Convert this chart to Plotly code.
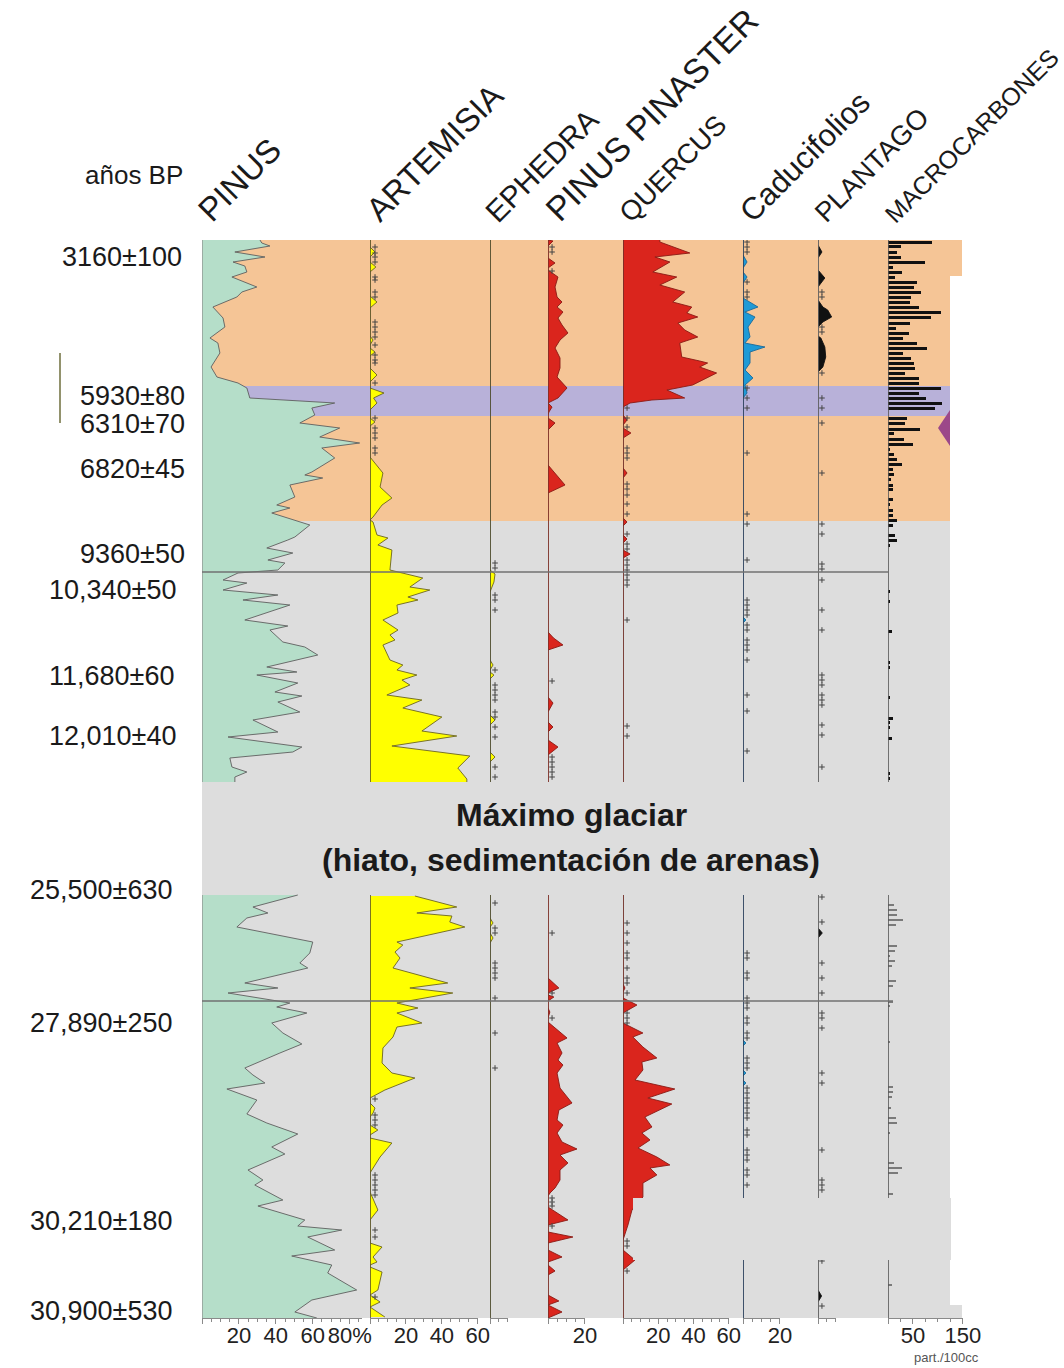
import plotly.graph_objects as go

W, H = 1064, 1368

# ---------------- data (depth axis: cm, top of core at 240) ----------------
SECTIONS = [(240, 782), (895, 1318)]

PINUS_UP_D = [240,243,246,252,257,262,266,272,277,287,292,297,307,318,327,338,343,353,367,377,383,388,398,403,408,415,423,428,437,443,448,458,472,475,478,485,497,505,508,513,525,537,540,548,553,560,563,570,573,580,583,590,595,600,605,620,626,630,642,647,655,667,672,675,683,692,696,702,712,720,732,737,747,752,758,767,772,777,782]
PINUS_UP_V = [31.4,32.4,36.8,17.8,34.1,16.8,23.2,24.3,16.2,29.7,21.6,18.9,5.9,11.4,12.4,4.3,8.6,9.7,4.9,8.1,19.5,24.3,25.9,71.9,59.5,61.1,53.0,74.6,63.8,85.4,64.9,71.9,59.5,55.7,65.4,47.6,50.3,40.5,47.6,37.8,58.4,50.3,46.5,35.1,49.2,35.7,44.9,41.1,19.5,11.4,24.3,11.4,41.1,22.2,47.6,23.2,46.5,36.8,43.8,55.7,62.7,35.1,51.4,29.7,51.9,39.5,54.1,41.1,53.0,27.6,41.1,14.1,54.1,49.2,15.1,16.2,24.3,17.8,17.8]
PINUS_LO_D = [895,907,913,918,927,942,953,963,968,983,988,993,1003,1007,1013,1023,1033,1044,1053,1068,1075,1083,1089,1100,1114,1123,1134,1147,1154,1170,1180,1185,1200,1206,1220,1226,1230,1237,1250,1256,1265,1273,1290,1300,1312,1318]
PINUS_LO_V = [51.9,27.6,35.7,24.3,18.9,60.0,58.4,53.0,57.3,23.2,41.1,14.1,47.6,40.5,56.8,37.8,43.8,54.1,42.2,23.2,27.6,34.1,13.5,29.7,24.3,35.1,51.9,37.8,44.9,24.9,33.0,28.6,43.8,30.3,55.7,51.9,75.7,57.3,71.9,48.6,70.3,68.1,83.8,59.5,50.3,62.2]

ART_UP_D = [240,247,252,257,262,267,272,296,302,308,336,340,345,348,352,356,368,375,382,388,393,398,403,410,418,422,426,457,473,487,498,505,517,520,522,535,538,545,550,570,578,587,590,597,600,605,613,620,630,635,640,645,660,665,670,675,680,685,695,700,708,717,731,736,746,756,768,779,782]
ART_UP_V = [0,0,2.8,0,0,3.3,0,0,3.9,0,0,1.7,0,0,2.8,0,0,3.9,0,0,7.8,2,3.9,0,0,2.8,0,0,7.2,5.6,12.2,6.7,1.7,0,1.7,3.9,10,4.4,12.2,11.1,29.4,22.2,33.3,21.1,26.7,15,15.6,7.2,15.6,11.1,13.9,7.2,11.1,18.3,15,26.1,17.8,22.2,9.4,28.9,18.3,40,28.9,48.3,12.2,55.6,48.9,53.9,53.9]
ART_LO_D = [896,907,913,916,922,927,942,945,952,958,968,983,988,993,1003,1008,1013,1023,1027,1037,1048,1063,1073,1078,1090,1098,1103,1108,1113,1117,1125,1130,1135,1138,1143,1157,1173,1192,1200,1210,1220,1243,1247,1257,1262,1265,1267,1272,1290,1295,1302,1307,1317]
ART_LO_V = [25,48.3,26.1,45.6,44.4,52.8,15,18.3,13.9,16.7,12.8,43.3,22.2,46.1,15,26.7,15,28.9,15,12.8,7.2,6.7,12.2,25,8.3,0,0,2.8,1.7,0,0,4.4,0,0,12.2,5.6,0,0,2,4.4,0,0,6.7,1.7,3.9,0,0,6.7,4.4,0,5.6,0,8.3]

EPH_UP_D = [240,570,574,582,592,660,665,670,672,675,679,715,720,725,752,757,762,782]
EPH_UP_V = [0,0,2.8,2.2,0,0,1.7,0,0,2.2,0,0,2.8,0,0,2.8,0,0]
EPH_LO_D = [895,918,923,927,933,938,943,1318]
EPH_LO_V = [0,0,1.7,0,0,1.7,0,0]

PPIN_UP_D = [240,241,246,258,263,268,270,277,287,297,302,307,312,318,325,333,340,348,358,368,377,388,398,402,403,407,412,415,418,423,430,465,470,485,493,632,638,645,650,697,703,712,722,727,732,740,747,755,782]
PPIN_UP_V = [0,2.7,0,0,3.8,0,0,5.4,3.8,4.9,7.6,4.9,8.1,5.4,7.6,10.8,6.5,3.8,6.5,6.5,4.9,10.3,5.4,1.1,0,2.2,0.5,0,0,3.8,0,0,2.2,9.2,0,0,3,8.1,0,0,2.7,0,0,2.7,0,0,5.4,0,0]
PPIN_LO_D = [895,978,988,993,995,997,1001,1008,1012,1018,1022,1038,1043,1053,1060,1065,1073,1088,1103,1110,1120,1125,1133,1142,1149,1155,1163,1170,1180,1188,1193,1196,1207,1220,1225,1232,1237,1243,1250,1257,1262,1265,1271,1275,1295,1301,1305,1312,1318]
PPIN_LO_V = [0,0,5.9,0,0,3.2,0,0,1,0,0,10.3,4.9,7.6,5.4,8.1,4.9,6.5,13,5.9,4.9,8.1,4.9,7.6,15.7,6.5,10.8,6.5,6.5,3.8,1.1,0,0,10.8,0,0,13.5,0,0,7.6,0,0,3.8,0,0,5.9,0,7.6,0]

QUE_UP_D = [240,242,253,257,262,272,277,285,292,302,307,313,317,323,330,337,343,357,361,363,367,373,385,390,398,400,403,407,415,420,425,428,433,438,468,473,478,518,522,526,535,539,543,550,554,558,782]
QUE_UP_V = [20.9,20.9,37.9,18.1,26.6,16.9,30.5,20.9,35.0,28.2,39.0,36.2,42.4,31.1,35.0,42.4,32.2,33.3,43.5,48.0,43.5,53.1,39.5,24.9,35.0,16.4,4.0,0,0,2.3,0,0,4.5,0,0,2.3,0,0,2.3,0,0,2.3,0,0,4,0,0]
QUE_LO_D = [895,984,988,992,998,1005,1013,1023,1033,1037,1047,1058,1062,1070,1080,1089,1098,1104,1117,1127,1133,1140,1148,1157,1165,1168,1175,1183,1197,1210,1225,1240,1250,1260,1270,1318]
QUE_LO_V = [0,0,1.1,0,0,7.9,0,0,11.3,5.6,11.3,19.2,10.7,11.3,6.8,29.4,14.1,27.7,12.4,16.4,10.7,15.3,8.5,19.2,26.6,15.3,19.2,11.3,11.3,5.1,2.8,0,0,6.8,0,0]

CAD_UP_D = [240,255,262,268,272,277,283,298,307,312,317,327,337,343,347,352,363,370,378,385,393,398,617,620,623,782]
CAD_UP_V = [0,0,2.2,0,0,2.2,0,0,8.1,1,6.5,2.7,3.8,1,11.9,3.8,3.8,1.1,5.4,1.1,2.2,0,0,1.6,0,0]
CAD_LO_D = [895,1040,1043,1046,1070,1073,1076,1080,1083,1086,1318]
CAD_LO_V = [0,0,1.6,0,0,1.6,0,0,1.6,0,0]

PLA_UP_D = [240,245,252,258,270,278,287,300,307,310,317,322,327,336,338,347,357,367,372,782]
PLA_UP_V = [0,0,2.2,0,0,3.8,0,0,2.7,5.4,7.6,2.7,0,0,1.6,3.8,4.3,2.7,0,0]
PLA_LO_D = [895,928,933,938,1290,1296,1302,1318]
PLA_LO_V = [0,0,2.4,0,0,2,0,0]

MAC_UP_D = [242,246,252,257,262,267,272,277,282,287,292,297,302,307,312,317,323,328,333,338,343,348,353,358,363,368,373,378,383,388,393,398,403,408,418,423,429,433,439,444,449,454,459,464,469,474,479,485,489,499,504,510,515,520,525,535,540,545,591,601,631,662,667,697,718,722,727,738,773,778]
MAC_UP_V = [88,26,18,26,74,10,28,14,58,52,66,46,44,62,106,86,44,16,42,30,58,78,30,46,52,54,34,62,62,106,62,76,108,94,38,34,64,12,32,50,4,12,18,28,10,12,6,10,10,10,4,10,10,18,10,14,18,4,4,4,8,4,4,4,10,4,4,8,4,4]
MAC_LO_D = [905,910,915,920,925,946,951,956,961,966,981,986,1002,1006,1042,1087,1092,1097,1108,1118,1123,1133,1163,1168,1173,1194,1285]
MAC_LO_V = [12,18,18,30,16,18,14,4,14,8,16,10,10,4,4,10,10,8,6,16,18,4,12,28,20,10,8]

# presence (<1 %) records, shown as "+"
ART_PLUS = [247,253,257,262,277,280,292,297,322,327,332,337,345,355,360,363,383,418,428,433,438,448,453,1099,1115,1120,1125,1175,1180,1185,1190,1195,1230,1237,1297]
EPH_PLUS = [563,568,595,600,610,670,685,690,695,700,712,717,727,737,767,777,903,928,933,963,968,973,978,998,1033,1068]
PPIN_PLUS = [247,252,271,681,757,762,767,772,777,933,993,1018,1198,1202,1206,1226]
QUE_PLUS = [408,418,427,448,453,458,484,489,495,504,514,534,544,549,560,565,570,575,580,585,620,726,736,923,933,943,953,958,968,978,983,993,1013,1018,1023,1241,1246,1271]
CAD_PLUS = [242,247,252,282,292,297,388,398,408,453,514,524,560,600,605,610,615,625,630,640,645,650,660,695,711,751,953,958,973,978,998,1003,1008,1018,1023,1033,1038,1058,1063,1068,1088,1093,1098,1103,1108,1113,1118,1130,1135,1150,1155,1160,1170,1175,1185]
PLA_PLUS = [292,297,327,332,373,398,408,423,473,524,534,564,569,580,610,630,675,680,685,695,700,705,725,735,767,897,922,963,978,993,1013,1018,1028,1073,1083,1150,1180,1185,1190,1261,1306]

TAXA = ["PINUS", "ARTEMISIA", "EPHEDRA", "PINUS PINASTER", "QUERCUS",
        "Caducifolios", "PLANTAGO", "MACROCARBONES"]

DATES = ["3160±100", "5930±80", "6310±70", "6820±45", "9360±50", "10,340±50",
         "11,680±60", "12,010±40", "25,500±630", "27,890±250", "30,210±180", "30,900±530"]
DATE_DEPTH = [257, 396, 424, 469, 554, 590, 676, 736, 890, 1023, 1221, 1311]

# pollen zones (depth bounds)
ZONE_BOUNDS = [240, 386, 416, 521, 1318]
HLINE_DEPTHS = [572, 1001]
HIATUS = ["Máximo glaciar", "(hiato, sedimentación de arenas)"]

# ---------------- styling / layout ----------------
NARROW = "Liberation Sans Narrow, Arial Narrow, Liberation Sans, Arial, sans-serif"
SANS = "Liberation Sans, Arial, sans-serif"
ORANGE, LAV, GREY = "#F5C596", "#B8B1D9", "#DDDDDD"
ZONE_COLORS = [ORANGE, LAV, ORANGE, GREY]

COLS = [
    dict(l=202, r=362, rmax=86.5, tv=[20, 40, 60, 80], tt=["20", "40", "60", "80%"], md=5, base="#8a8a8a"),
    dict(l=370, r=478, rmax=60, tv=[20, 40, 60], tt=["20", "40", "60"], md=5, base="#5a5228"),
    dict(l=490, r=508, rmax=10, tv=[], tt=[], md=5, base="#4a472c"),
    dict(l=548, r=585, rmax=20, tv=[20], tt=["20"], md=5, base="#7a3028"),
    dict(l=623, r=729, rmax=60, tv=[20, 40, 60], tt=["20", "40", "60"], md=5, base="#6c3029"),
    dict(l=743, r=780, rmax=20, tv=[20], tt=["20"], md=5, base="#2c3c55"),
    dict(l=818, r=836, rmax=10, tv=[], tt=[], md=5, base="#666666"),
    dict(l=888, r=963, rmax=150, tv=[50, 150], tt=["50", "150"], md=25, base="#555555"),
]
PLOT_TOP, PLOT_BOT = 240, 1318
ZONE_RIGHT = 950

def px(x):
    return x / W

def py(y):
    return 1 - y / H

def ax(i):
    return "x" if i == 1 else f"x{i}"

fig = go.Figure()

def area(i, d, v, fill, line):
    fig.add_trace(go.Scatter(x=v, y=d, mode="lines", fill="tozerox", fillcolor=fill,
                             line=dict(color=line, width=0.9), xaxis=ax(i), yaxis="y",
                             hoverinfo="skip", showlegend=False))

area(1, PINUS_UP_D, PINUS_UP_V, "#B5DEC9", "#5f5f5f")
area(1, PINUS_LO_D, PINUS_LO_V, "#B5DEC9", "#5f5f5f")
area(2, ART_UP_D, ART_UP_V, "#FFFF00", "#6b6420")
area(2, ART_LO_D, ART_LO_V, "#FFFF00", "#6b6420")
area(3, EPH_UP_D, EPH_UP_V, "#FFFF00", "#6b6420")
area(3, EPH_LO_D, EPH_LO_V, "#FFFF00", "#6b6420")
area(4, PPIN_UP_D, PPIN_UP_V, "#DA251D", "#8a1a14")
area(4, PPIN_LO_D, PPIN_LO_V, "#DA251D", "#8a1a14")
area(5, QUE_UP_D, QUE_UP_V, "#DA251D", "#8a1a14")
area(5, QUE_LO_D, QUE_LO_V, "#DA251D", "#8a1a14")
area(6, CAD_UP_D, CAD_UP_V, "#1E9AD6", "#1b6a9a")
area(6, CAD_LO_D, CAD_LO_V, "#1E9AD6", "#1b6a9a")
area(7, PLA_UP_D, PLA_UP_V, "#111111", "#111111")
area(7, PLA_LO_D, PLA_LO_V, "#111111", "#111111")

fig.add_trace(go.Bar(x=MAC_UP_V, y=MAC_UP_D, orientation="h", width=3, base=0,
                     marker=dict(color="#111111", line=dict(width=0)),
                     xaxis="x8", yaxis="y", hoverinfo="skip", showlegend=False))
fig.add_trace(go.Bar(x=MAC_LO_V, y=MAC_LO_D, orientation="h", width=1, base=0,
                     marker=dict(color="#7a7a7a", line=dict(width=0)),
                     xaxis="x8", yaxis="y", hoverinfo="skip", showlegend=False))

PLUS_OFFSET = {2: 2.8, 3: 2.8, 4: 2.2, 5: 2.3, 6: 2.2, 7: 2.2}
for i, lst in [(2, ART_PLUS), (3, EPH_PLUS), (4, PPIN_PLUS), (5, QUE_PLUS), (6, CAD_PLUS), (7, PLA_PLUS)]:
    fig.add_trace(go.Scatter(x=[PLUS_OFFSET[i]] * len(lst), y=lst, mode="markers",
                             marker=dict(symbol="cross-thin", size=4, line=dict(width=1, color="#444444")),
                             xaxis=ax(i), yaxis="y", hoverinfo="skip", showlegend=False))

# ---------------- axes ----------------
layout = dict(
    width=W, height=H, autosize=False, margin=dict(l=0, r=0, t=0, b=0, pad=0, autoexpand=False),
    paper_bgcolor="white", plot_bgcolor="rgba(0,0,0,0)", barmode="overlay", bargap=0,
    showlegend=False,
    yaxis=dict(domain=[py(PLOT_BOT), py(PLOT_TOP)], range=[PLOT_BOT, PLOT_TOP],
               visible=False, showgrid=False, zeroline=False, automargin=False),
)
n = len(COLS)
for i, c in enumerate(COLS, start=1):
    common = dict(range=[0, c["rmax"] * 1.002], showgrid=False, zeroline=False,
                  showline=True, linecolor="#8a8a8a", linewidth=1, automargin=False,
                  ticks="outside", ticklen=5, tickcolor="#8a8a8a", tickwidth=1,
                  tickmode="array", tickvals=[0] + c["tv"], ticktext=[""] + c["tt"],
                  minor=dict(ticks="outside", ticklen=3, dtick=c["md"], tick0=0,
                             tickcolor="#8a8a8a", tickwidth=1),
                  fixedrange=True)
    key = "xaxis" if i == 1 else f"xaxis{i}"
    layout[key] = dict(common, domain=[px(c["l"]), px(c["r"])], anchor="y", side="bottom",
                       ticklabelstandoff=-7,
                       tickfont=dict(family=NARROW, size=22, color="#222222"))
    layout[f"xaxis{i + n}"] = dict(common, overlaying=ax(i), matches=ax(i), anchor="y",
                                   side="top", showticklabels=False)
fig.update_layout(**layout)

# ---------------- shapes ----------------
shapes = []
for k in range(len(ZONE_BOUNDS) - 1):
    shapes.append(dict(type="rect", xref="paper", yref="y", x0=px(COLS[0]["l"]), x1=px(ZONE_RIGHT),
                       y0=ZONE_BOUNDS[k], y1=ZONE_BOUNDS[k + 1], fillcolor=ZONE_COLORS[k],
                       line=dict(width=0), layer="below"))
shapes.append(dict(type="rect", xref="paper", yref="y", x0=px(ZONE_RIGHT - 1), x1=px(962),
                   y0=ZONE_BOUNDS[0], y1=276, fillcolor=ORANGE, line=dict(width=0), layer="below"))
shapes.append(dict(type="rect", xref="paper", yref="y", x0=px(ZONE_RIGHT - 1), x1=px(962),
                   y0=1305, y1=ZONE_BOUNDS[-1], fillcolor=GREY, line=dict(width=0), layer="below"))
for i, c in enumerate(COLS, start=1):
    for (s0, s1) in SECTIONS:
        shapes.append(dict(type="line", xref=ax(i), yref="y", x0=0, x1=0, y0=s0, y1=s1,
                           line=dict(color=c["base"], width=1.6 if i > 1 else 1.2), layer="above"))
for hd, xr in zip(HLINE_DEPTHS, [COLS[-1]["l"], COLS[-1]["l"] + 5]):
    shapes.append(dict(type="line", xref="paper", yref="y", x0=px(COLS[0]["l"]), x1=px(xr),
                       y0=hd, y1=hd, line=dict(color="#707070", width=1.3), layer="above"))
shapes.append(dict(type="rect", xref="paper", yref="y", x0=px(633), x1=px(951), y0=1198, y1=1260,
                   fillcolor=GREY, line=dict(width=0), layer="above"))
shapes.append(dict(type="path", xref="paper", yref="y",
                   path=f"M {px(950)} 410 L {px(938)} 428 L {px(950)} 446 Z",
                   fillcolor="#9C4889", line=dict(width=0), layer="above"))
shapes.append(dict(type="line", xref="paper", yref="y", x0=px(60), x1=px(60), y0=353, y1=423,
                   line=dict(color="#6e6e3c", width=1.5)))
fig.update_layout(shapes=shapes)

# ---------------- annotations ----------------
ann = []
HEAD_X = [188, 356, 476, 535, 610, 730, 806, 876]
HEAD_SIZE = [33, 33, 30, 34, 27.5, 31, 27.5, 25]
for t, hx, s in zip(TAXA, HEAD_X, HEAD_SIZE):
    ann.append(dict(text=t, xref="paper", yref="paper", x=px(hx), y=py(231), xanchor="left",
                    yanchor="bottom", textangle=-45, showarrow=False,
                    font=dict(family=SANS, size=s, color="#1a1a1a")))
ann.append(dict(text="años BP", xref="paper", yref="paper", x=px(134), y=py(175),
                xanchor="center", yanchor="middle",
                showarrow=False, font=dict(family=SANS, size=26, color="#1a1a1a")))
DATE_RIGHT = [183, 186, 186, 186, 186, 177, 175, 177, 173, 173, 173, 173]
for t, d, r in zip(DATES, DATE_DEPTH, DATE_RIGHT):
    ann.append(dict(text=t, xref="paper", yref="y", x=px(r), y=d, xanchor="right",
                    yanchor="middle", showarrow=False, borderpad=0,
                    font=dict(family=SANS, size=27, color="#1a1a1a")))
for t, cy in zip(HIATUS, [815, 860]):
    ann.append(dict(text=f"<b>{t}</b>", xref="paper", yref="y", x=px(571), y=cy,
                    xanchor="center", yanchor="middle", showarrow=False,
                    font=dict(family=NARROW, size=32, color="#1a1a1a")))
ann.append(dict(text="part./100cc", xref="paper", yref="paper", x=px(946), y=py(1357),
                xanchor="center", yanchor="middle",
                showarrow=False, font=dict(family=SANS, size=13, color="#555555")))
fig.update_layout(annotations=ann)

POST = """
document.documentElement.style.overflow='hidden';
document.body.style.margin='0';
document.body.style.overflow='hidden';
var gd = document.getElementById('{plot_id}');
gd.style.width='1064px'; gd.style.height='1368px';
Plotly.relayout(gd, {width: 1064, height: 1368, autosize: false});
"""
fig.write_html("out.html", config={"displayModeBar": False, "responsive": False},
               post_script=POST)
